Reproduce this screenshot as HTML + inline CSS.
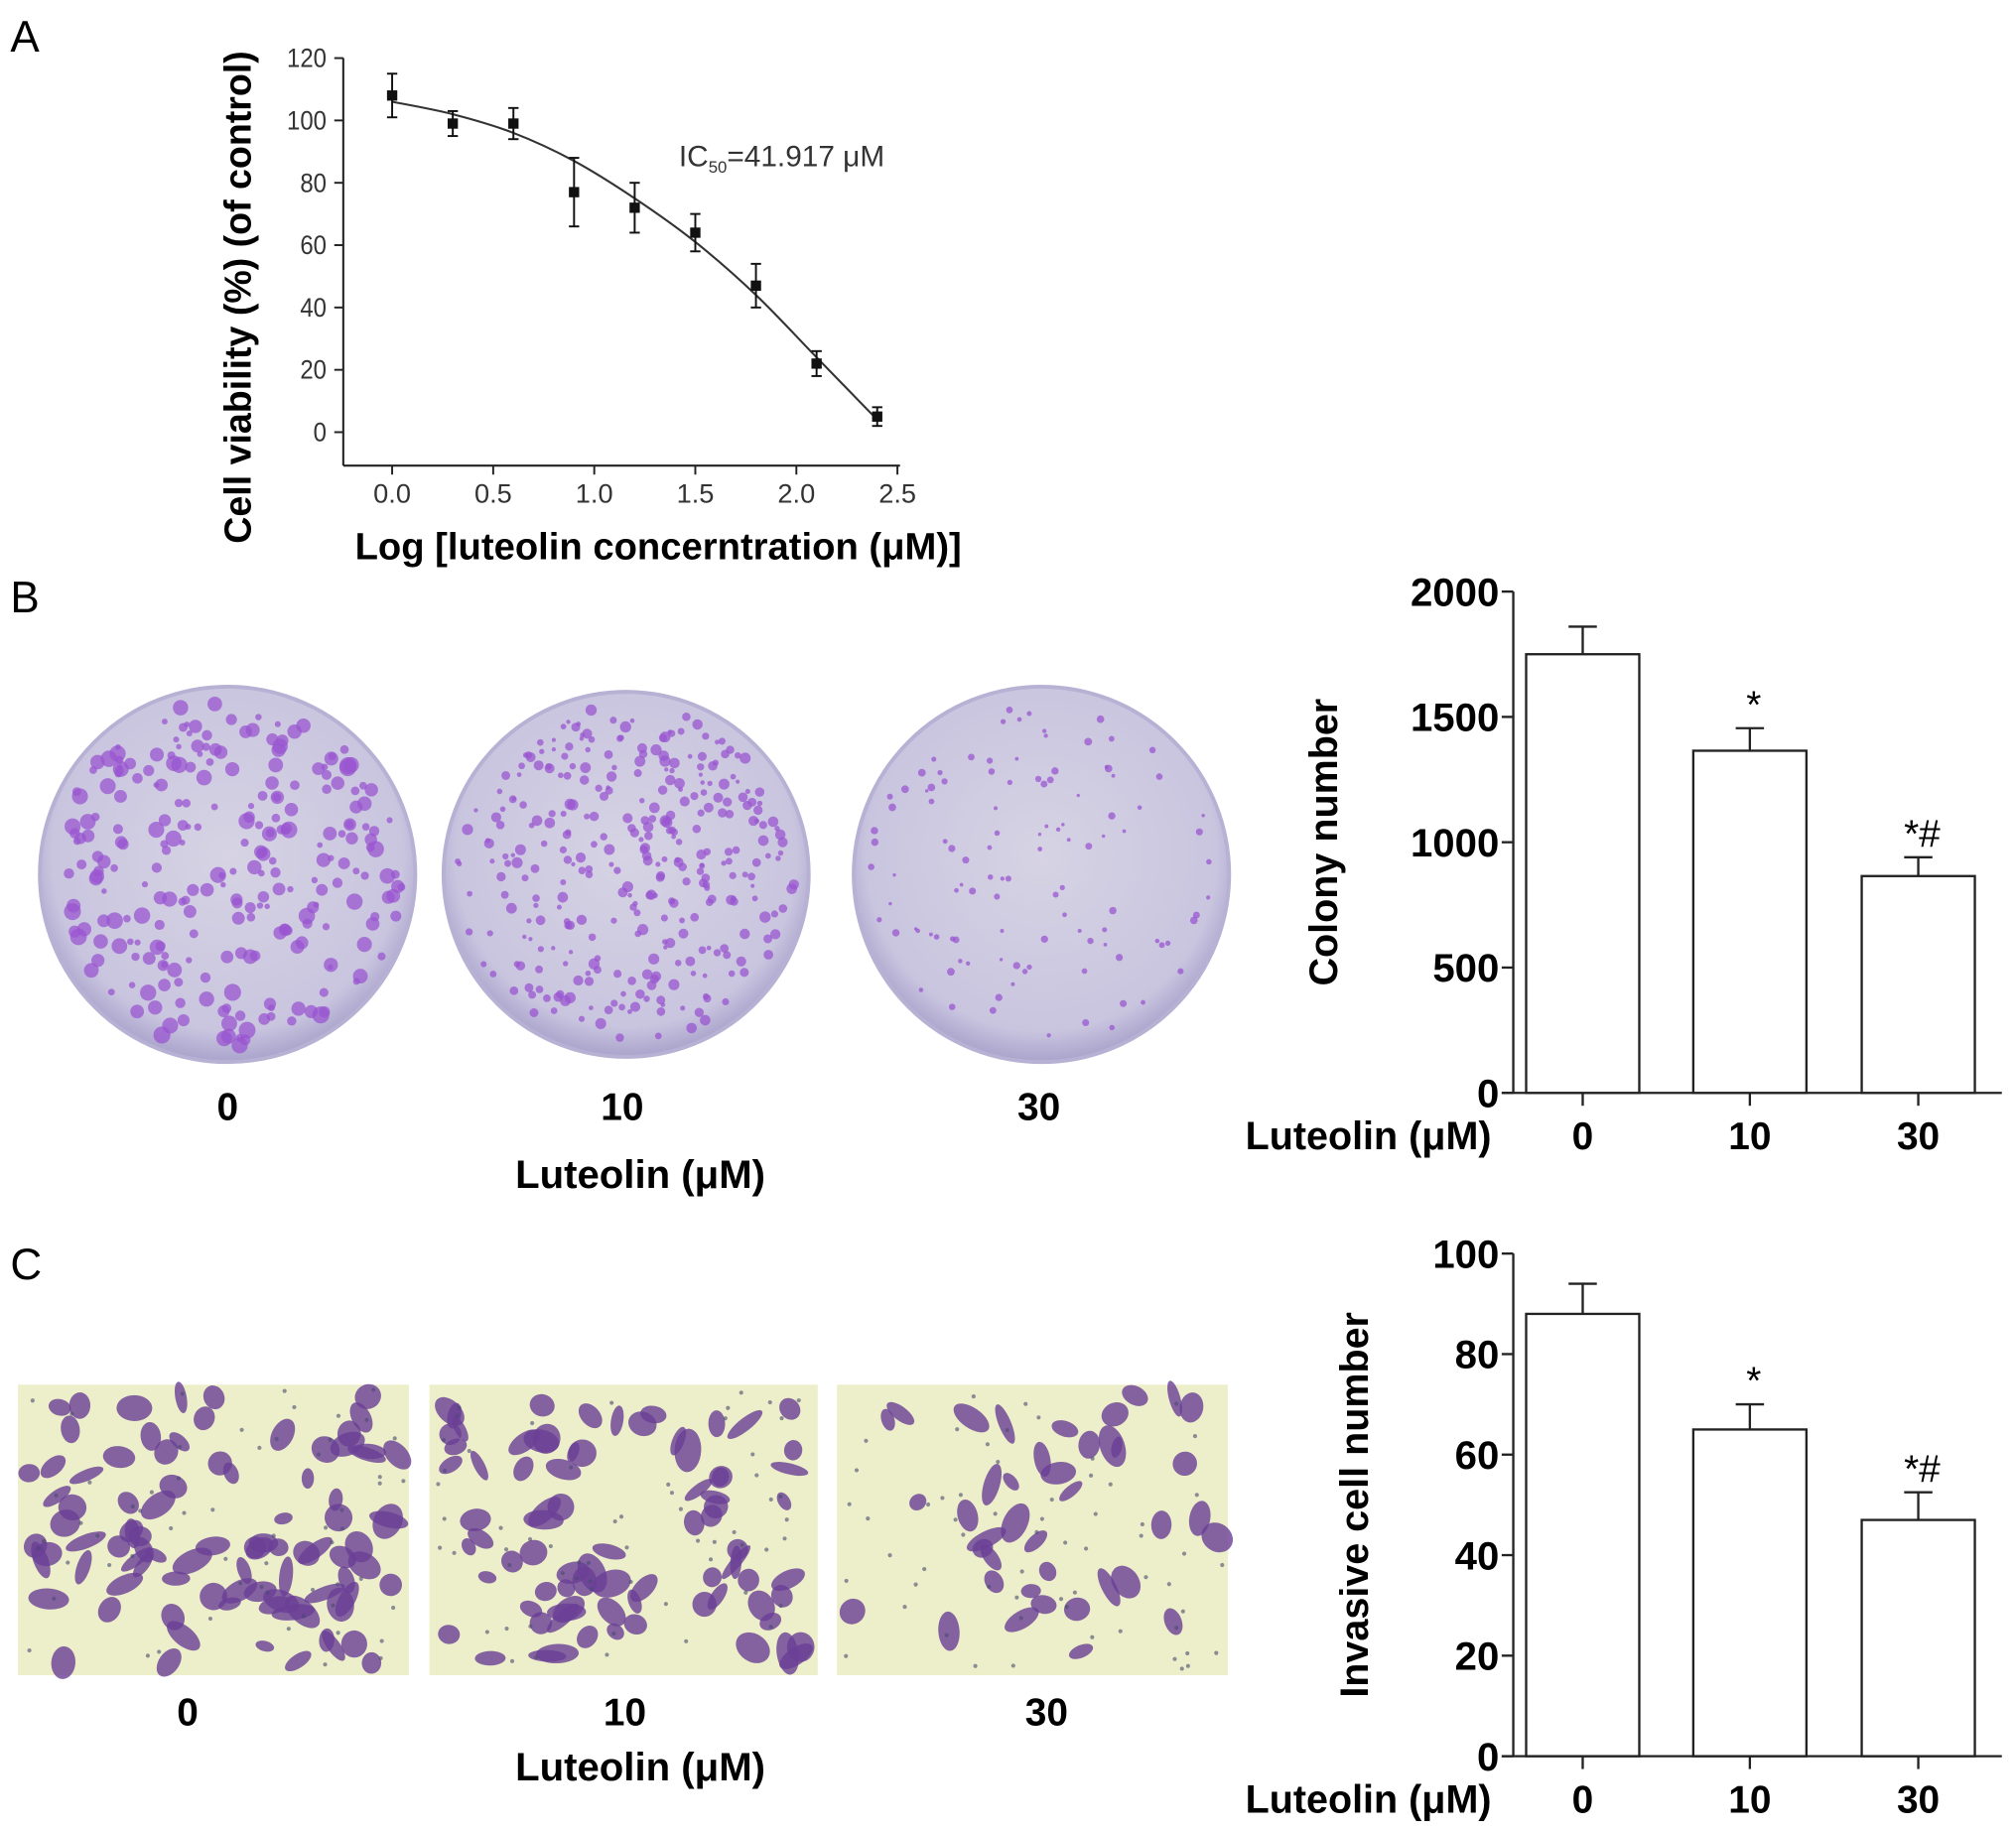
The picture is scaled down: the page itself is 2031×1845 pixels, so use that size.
<!DOCTYPE html>
<html><head><meta charset="utf-8"><style>
html,body{margin:0;padding:0;background:#fff;}
svg{display:block;font-family:"Liberation Sans",Arial,sans-serif;}
</style></head><body>
<svg id="fig" width="2031" height="1845" viewBox="0 0 1568 1424" xmlns="http://www.w3.org/2000/svg">
<rect width="1568" height="1424" fill="#fff"/>
<g id="panelA"></g>
<g id="panelB"></g>
<g id="panelC"></g>
</svg>
<script>
// Panel A data
const aX = [0, 0.3, 0.6, 0.9, 1.2, 1.5, 1.8, 2.1, 2.4];
const aY = [108, 99, 99, 77, 72, 64, 47, 22, 5];
const aErr = [7, 4, 5, 11, 8, 6, 7, 4, 3];
const aFitX = [0, 0.3, 0.6, 0.9, 1.2, 1.5, 1.8, 2.1, 2.4];
const aFitY = [106, 102, 96, 87, 75, 61, 44, 24, 4];
const aYTicks = [0, 20, 40, 60, 80, 100, 120];
const aXTicks = ["0.0", "0.5", "1.0", "1.5", "2.0", "2.5"];
// Panel B data
const bCats = ["0", "10", "30"];
const bVals = [1750, 1365, 865];
const bErr = [110, 90, 75];
const bMarks = ["", "*", "*#"];
const bYTicks = [0, 500, 1000, 1500, 2000];
// Panel C data
const cCats = ["0", "10", "30"];
const cVals = [88, 65, 47];
const cErr = [6, 5, 5.5];
const cMarks = ["", "*", "*#"];
const cYTicks = [0, 20, 40, 60, 80, 100];

const NS = "http://www.w3.org/2000/svg";
function el(parent, tag, attrs, text) {
  const e = document.createElementNS(NS, tag);
  for (const k in attrs) e.setAttribute(k, attrs[k]);
  if (text !== undefined) e.textContent = text;
  parent.appendChild(e);
  return e;
}
let seed = 7;
function rnd() { seed = (seed * 16807) % 2147483647; return seed / 2147483647; }

// ---------- Panel A ----------
const A = document.getElementById("panelA");
const ax = v => 305 + v * 157.2;
const ay = v => 336 - v * 2.425;
let t = el(A, "text", {x: 8, y: 40, "font-size": 34}, "A");


let l = el(A, "line", {x1: 267, y1: 45, x2: 267, y2: 362, stroke: "#222", "stroke-width": 1.6});


l = el(A, "line", {x1: 267, y1: 362, x2: 700, y2: 362, stroke: "#222", "stroke-width": 1.6});


aYTicks.forEach(v => {
  el(A, "line", {x1: 260, y1: ay(v), x2: 267, y2: ay(v), stroke: "#222", "stroke-width": 1.5});
  const tt = el(A, "text", {x: 254, y: ay(v) + 7, "font-size": 21, "text-anchor": "end", fill: "#333", transform: "translate(" + (254 * 0.12) + ",0) scale(0.88,1)"}, String(v));
  
  
});
aXTicks.forEach(s => {
  const v = parseFloat(s);
  el(A, "line", {x1: ax(v), y1: 362, x2: ax(v), y2: 369, stroke: "#222", "stroke-width": 1.5});
  const tt = el(A, "text", {x: ax(v), y: 391, "font-size": 21, "text-anchor": "middle", fill: "#333"}, s);
  
  
});
// smooth curve through fit points (Catmull-Rom)
const fp = aFitX.map((x, i) => [ax(x), ay(aFitY[i])]);
let d = "M" + fp[0][0] + "," + fp[0][1];
for (let i = 0; i < fp.length - 1; i++) {
  const p0 = fp[Math.max(0, i - 1)], p1 = fp[i], p2 = fp[i + 1], p3 = fp[Math.min(fp.length - 1, i + 2)];
  d += " C" + (p1[0] + (p2[0] - p0[0]) / 6) + "," + (p1[1] + (p2[1] - p0[1]) / 6) + " " +
       (p2[0] - (p3[0] - p1[0]) / 6) + "," + (p2[1] - (p3[1] - p1[1]) / 6) + " " + p2[0] + "," + p2[1];
}
let p = el(A, "path", {d: d, fill: "none", stroke: "#333", "stroke-width": 1.6});


aX.forEach((x, i) => {
  const cx = ax(x), y = aY[i], e = aErr[i];
  const g = el(A, "g", {});
  
  
  el(g, "line", {x1: cx, y1: ay(y + e), x2: cx, y2: ay(y - e), stroke: "#111", "stroke-width": 1.5});
  el(g, "line", {x1: cx - 4, y1: ay(y + e), x2: cx + 4, y2: ay(y + e), stroke: "#111", "stroke-width": 1.5});
  el(g, "line", {x1: cx - 4, y1: ay(y - e), x2: cx + 4, y2: ay(y - e), stroke: "#111", "stroke-width": 1.5});
  el(g, "rect", {x: cx - 4, y: ay(y) - 4, width: 8, height: 8, fill: "#111"});
});
t = el(A, "text", {x: 528, y: 129, "font-size": 23, fill: "#333"});


el(t, "tspan", {}, "IC");
el(t, "tspan", {"font-size": 13, dy: 5}, "50");
el(t, "tspan", {dy: -5}, "=41.917 μM");
t = el(A, "text", {x: 0, y: 0, "font-size": 29, "font-weight": "bold", "text-anchor": "middle", transform: "translate(195,231) rotate(-90)"}, "Cell viability (%) (of control)");


t = el(A, "text", {x: 512, y: 435, "font-size": 29.5, "font-weight": "bold", "text-anchor": "middle"}, "Log [luteolin concerntration (μM)]");



// ---------- Bar chart helper ----------
function barChart(G, top, bottom, max, cats, vals, errs, marks, ticks, ytitle, titleX, prefix) {
  const by = v => bottom - v / max * (bottom - top);
  const cxs = [1231, 1361, 1492];
  let ln = el(G, "line", {x1: 1177, y1: top, x2: 1177, y2: bottom, stroke: "#222", "stroke-width": 1.8});
  
  
  ln = el(G, "line", {x1: 1168, y1: bottom, x2: 1557, y2: bottom, stroke: "#222", "stroke-width": 1.8});
  
  
  ticks.forEach(v => {
    el(G, "line", {x1: 1168, y1: by(v), x2: 1177, y2: by(v), stroke: "#222", "stroke-width": 1.8});
    const tt = el(G, "text", {x: 1166, y: by(v) + 11, "font-size": 31, "font-weight": "bold", "text-anchor": "end"}, String(v));
    
    
  });
  cats.forEach((c, i) => {
    const cx = cxs[i], v = vals[i], e = errs[i];
    const g = el(G, "g", {});
    
    
    el(g, "line", {x1: cx, y1: by(v), x2: cx, y2: by(v + e), stroke: "#222", "stroke-width": 1.8});
    el(g, "line", {x1: cx - 11, y1: by(v + e), x2: cx + 11, y2: by(v + e), stroke: "#222", "stroke-width": 1.8});
    el(g, "rect", {x: cx - 44, y: by(v), width: 88, height: bottom - by(v), fill: "#fff", stroke: "#222", "stroke-width": 1.8});
    el(G, "line", {x1: cx, y1: bottom, x2: cx, y2: bottom + 10, stroke: "#222", "stroke-width": 1.8});
    const lab = el(G, "text", {x: cx, y: bottom + 44, "font-size": 30, "font-weight": "bold", "text-anchor": "middle"}, c);
    
    
    if (marks[i]) {
      const m = el(G, "text", {x: cx + 3, y: by(v + e) - 8, "font-size": 30, "text-anchor": "middle"}, marks[i]);
      
      
    }
  });
  let tt = el(G, "text", {x: 1160, y: bottom + 44, "font-size": 30.5, "font-weight": "bold", "text-anchor": "end"}, "Luteolin (μM)");
  
  
  tt = el(G, "text", {x: 0, y: 0, "font-size": 30.5, "font-weight": "bold", "text-anchor": "middle", transform: "translate(" + titleX + "," + ((top + bottom) / 2) + ") rotate(-90)"}, ytitle);
  
  
}

// ---------- Panel B ----------
const B = document.getElementById("panelB");
t = el(B, "text", {x: 8, y: 476, "font-size": 34}, "B");


const defs = el(document.getElementById("fig"), "defs", {});
const rg = el(defs, "radialGradient", {id: "dishG", cx: "50%", cy: "45%", r: "55%"});
el(rg, "stop", {offset: "0%", "stop-color": "#d6d3e4"});
el(rg, "stop", {offset: "85%", "stop-color": "#c9c5df"});
el(rg, "stop", {offset: "100%", "stop-color": "#aaa3cc"});
const dishes = [[177, 680, 146, 260, 1.3], [487, 680, 142, 330, 0.8], [810, 680, 146, 110, 0.5]];
dishes.forEach((dd, k) => {
  const g = el(B, "g", {});
  
  
  el(g, "circle", {cx: dd[0], cy: dd[1], r: dd[2], fill: "url(#dishG)", stroke: "#b7b1d4", "stroke-width": 3});
  for (let i = 0; i < dd[3]; i++) {
    const a = rnd() * Math.PI * 2, r = Math.sqrt(rnd()) * (dd[2] - 10);
    el(g, "circle", {cx: dd[0] + r * Math.cos(a), cy: dd[1] + r * Math.sin(a), r: (1 + rnd() * 3.5) * dd[4] + 0.8, fill: "#9a55d0", opacity: 0.75});
  }
});
[["0", 177], ["10", 484], ["30", 808]].forEach(q => {
  const tt = el(B, "text", {x: q[1], y: 871, "font-size": 30, "font-weight": "bold", "text-anchor": "middle"}, q[0]);
  
  
});
t = el(B, "text", {x: 498, y: 924, "font-size": 31, "font-weight": "bold", "text-anchor": "middle"}, "Luteolin (μM)");


barChart(B, 460, 850, 2000, bCats, bVals, bErr, bMarks, bYTicks, "Colony number", 1040, "colony");

// ---------- Panel C ----------
const C = document.getElementById("panelC");
t = el(C, "text", {x: 8, y: 995, "font-size": 34}, "C");


const imgs = [[14, 304, 90], [334, 302, 80], [651, 304, 40]];
imgs.forEach((m, k) => {
  const g = el(C, "g", {});
  
  
  el(g, "rect", {x: m[0], y: 1077, width: m[1], height: 226, fill: "#ecefc9"});
  for (let i = 0; i < m[2]; i++) {
    const cx = m[0] + 8 + rnd() * (m[1] - 16), cy = 1085 + rnd() * 210;
    el(g, "ellipse", {cx: cx, cy: cy, rx: 4 + rnd() * 7, ry: 7 + rnd() * 10, fill: "#6a3f96", opacity: 0.8, transform: "rotate(" + (rnd() * 180) + " " + cx + " " + cy + ")"});
  }
  for (let i = 0; i < 60; i++) {
    el(g, "circle", {cx: m[0] + 4 + rnd() * (m[1] - 8), cy: 1081 + rnd() * 218, r: 1.6, fill: "#4a4a70", opacity: 0.6});
  }
});
[["0", 146], ["10", 486], ["30", 814]].forEach(q => {
  const tt = el(C, "text", {x: q[1], y: 1342, "font-size": 30, "font-weight": "bold", "text-anchor": "middle"}, q[0]);
  
  
});
t = el(C, "text", {x: 498, y: 1385, "font-size": 31, "font-weight": "bold", "text-anchor": "middle"}, "Luteolin (μM)");


barChart(C, 975, 1366, 100, cCats, cVals, cErr, cMarks, cYTicks, "Invasive cell number", 1064, "invasive");
</script>
</body></html>
